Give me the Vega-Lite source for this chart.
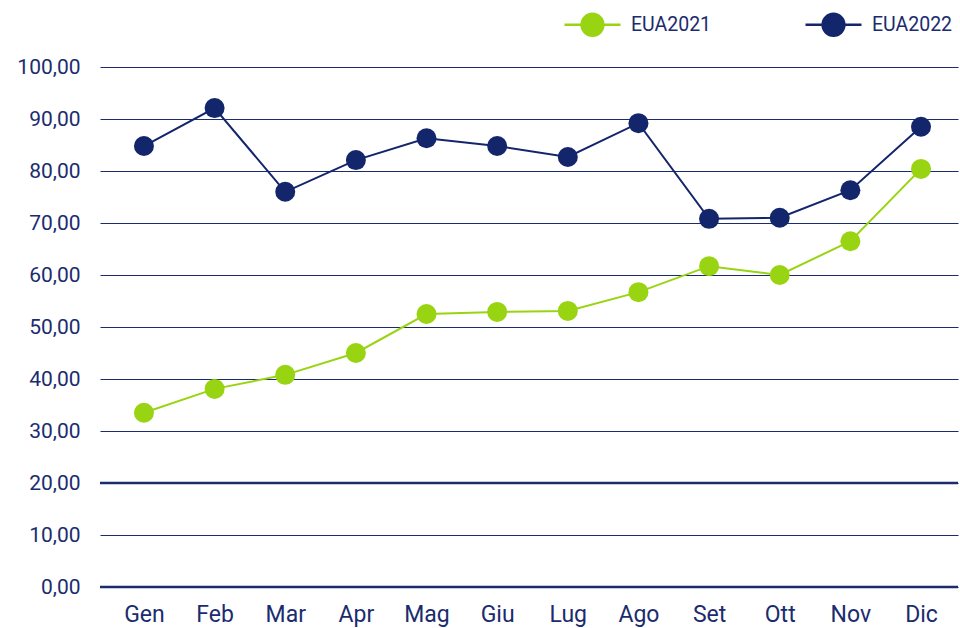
{
  "$schema": "https://vega.github.io/schema/vega-lite/v6.json",
  "width": 858,
  "height": 520,
  "autosize": {"type": "none"},
  "padding": {"left": 100, "top": 67, "right": 2, "bottom": 41},
  "background": "white",
  "datasets": {
    "series": [
      {"mese": "Gen", "serie": "EUA2021", "valore": 33.5},
      {"mese": "Feb", "serie": "EUA2021", "valore": 38.1},
      {"mese": "Mar", "serie": "EUA2021", "valore": 40.8},
      {"mese": "Apr", "serie": "EUA2021", "valore": 45.0},
      {"mese": "Mag", "serie": "EUA2021", "valore": 52.5},
      {"mese": "Giu", "serie": "EUA2021", "valore": 52.9},
      {"mese": "Lug", "serie": "EUA2021", "valore": 53.1},
      {"mese": "Ago", "serie": "EUA2021", "valore": 56.7},
      {"mese": "Set", "serie": "EUA2021", "valore": 61.7},
      {"mese": "Ott", "serie": "EUA2021", "valore": 60.0},
      {"mese": "Nov", "serie": "EUA2021", "valore": 66.5},
      {"mese": "Dic", "serie": "EUA2021", "valore": 80.4},
      {"mese": "Gen", "serie": "EUA2022", "valore": 84.8},
      {"mese": "Feb", "serie": "EUA2022", "valore": 92.1},
      {"mese": "Mar", "serie": "EUA2022", "valore": 76.0},
      {"mese": "Apr", "serie": "EUA2022", "valore": 82.1},
      {"mese": "Mag", "serie": "EUA2022", "valore": 86.3},
      {"mese": "Giu", "serie": "EUA2022", "valore": 84.8},
      {"mese": "Lug", "serie": "EUA2022", "valore": 82.7},
      {"mese": "Ago", "serie": "EUA2022", "valore": 89.2},
      {"mese": "Set", "serie": "EUA2022", "valore": 70.8},
      {"mese": "Ott", "serie": "EUA2022", "valore": 71.0},
      {"mese": "Nov", "serie": "EUA2022", "valore": 76.3},
      {"mese": "Dic", "serie": "EUA2022", "valore": 88.5}
    ],
    "lines": [{"y": 0}, {"y": 20}]
  },
  "layer": [
    {
      "data": {"name": "lines"},
      "mark": {"type": "rule", "color": "#1b2c6e", "strokeWidth": 2.5},
      "encoding": {
        "y": {"field": "y", "type": "quantitative", "scale": {"domain": [0, 100]}}
      }
    },
    {
      "data": {"name": "series"},
      "mark": {"type": "line", "strokeWidth": 2},
      "encoding": {
        "x": {"field": "mese", "type": "ordinal", "sort": null,
          "scale": {"type": "point", "padding": 0.573, "align": 0.543},
          "axis": {"title": null, "labelAngle": 0, "domain": false, "ticks": false, "labelPadding": 16, "labelFontSize": 23, "labelColor": "#1b2c6e", "labelFont": "Roboto"}},
        "y": {"field": "valore", "type": "quantitative",
          "scale": {"domain": [0, 100]},
          "axis": {"title": null, "values": [0,10,20,30,40,50,60,70,80,90,100], "domain": false, "ticks": false, "grid": true, "gridColor": "#1b2c6e", "gridWidth": 1, "gridOpacity": 1, "labelPadding": 20, "labelFontSize": 21, "labelColor": "#1b2c6e", "labelFont": "Roboto",
            "labelExpr": "replace(format(datum.value, '.2f'), '.', ',')"}},
        "color": {"field": "serie", "type": "nominal",
          "scale": {"domain": ["EUA2021", "EUA2022"], "range": ["#99d412", "#13256b"]},
          "legend": {"title": null, "orient": "none", "direction": "horizontal", "legendX": 463, "legendY": -72,
            "symbolType": "M-1,0L1,0M-0.39,0A0.39,0.39,0,1,1,0.39,0A0.39,0.39,0,1,1,-0.39,0Z",
            "symbolSize": 3136, "symbolStrokeWidth": 2.5, "labelFontSize": 19.5, "labelColor": "#1b2c6e", "labelFont": "Roboto", "labelOffset": 9, "columnPadding": 88}}
      }
    },
    {
      "data": {"name": "series"},
      "mark": {"type": "circle", "size": 400, "opacity": 1},
      "encoding": {
        "x": {"field": "mese", "type": "ordinal", "sort": null},
        "y": {"field": "valore", "type": "quantitative"},
        "color": {"field": "serie", "type": "nominal"}
      }
    }
  ],
  "config": {"view": {"stroke": null}}
}
